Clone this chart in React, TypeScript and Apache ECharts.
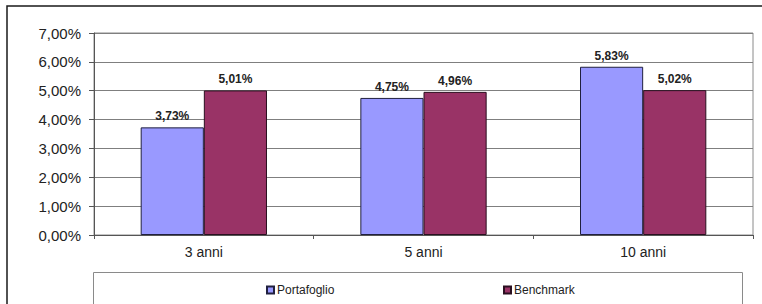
import React, { useEffect, useRef } from "react";
import * as echarts from "echarts";

const categories = ["3 anni", "5 anni", "10 anni"];
const portafoglio = [3.73, 4.75, 5.83];
const benchmark = [5.01, 4.96, 5.02];
const seriesNames = ["Portafoglio", "Benchmark"];
const yTicks = { min: 0, max: 7, interval: 1 };

const FONT = "'Liberation Sans', Arial, sans-serif";
const fmt = (v: number) => v.toFixed(2).replace(".", ",") + "%";

export default function App() {
  const ref = useRef<HTMLDivElement>(null);
  useEffect(() => {
    if (!ref.current) return;
    const chart = echarts.init(ref.current, undefined, { renderer: "svg" });
    const labelCfg = {
      show: true,
      position: "top" as const,
      distance: 5,
      fontFamily: FONT,
      fontSize: 12,
      fontWeight: "bold" as const,
      color: "#222",
      formatter: (p: any) => fmt(p.value),
    };
    chart.setOption({
      animation: false,
      backgroundColor: "#ffffff",
      textStyle: { fontFamily: FONT },
      grid: {
        left: 94,
        right: 9,
        top: 33,
        bottom: 69,
        show: true,
        borderColor: "#8a8a8a",
        borderWidth: 1,
        outerBoundsMode: "none",
        containLabel: false,
      },
      xAxis: {
        type: "category",
        data: categories,
        axisLine: { show: true, lineStyle: { color: "#555", width: 1 } },
        axisTick: { show: true, length: 4, lineStyle: { color: "#555" } },
        axisLabel: { fontFamily: FONT, fontSize: 14, color: "#222", margin: 10 },
        splitLine: { show: false },
      },
      yAxis: {
        type: "value",
        min: yTicks.min,
        max: yTicks.max,
        interval: yTicks.interval,
        axisLine: { show: true, lineStyle: { color: "#555", width: 1 } },
        axisTick: { show: true, length: 5, lineStyle: { color: "#555" } },
        axisLabel: {
          fontFamily: FONT,
          fontSize: 15,
          color: "#222",
          margin: 13,
          formatter: (v: number) => fmt(v),
        },
        splitLine: { show: true, lineStyle: { color: "#7f7f7f", width: 1 } },
      },
      legend: [
        {
          data: [seriesNames[0]],
          left: 266,
          top: 284,
          itemWidth: 7,
          itemHeight: 7,
          padding: 0,
          icon: "rect",
          textStyle: { fontFamily: FONT, fontSize: 12, color: "#222", padding: [0, 0, 0, -2] },
        },
        {
          data: [seriesNames[1]],
          left: 503,
          top: 284,
          itemWidth: 7,
          itemHeight: 7,
          padding: 0,
          icon: "rect",
          textStyle: { fontFamily: FONT, fontSize: 12, color: "#222", padding: [0, 0, 0, -2] },
        },
      ],
      graphic: [
        {
          type: "rect",
          shape: { x: 7, y: 6, width: 800, height: 400 },
          style: { fill: "none", stroke: "#1a1a1a", lineWidth: 1.5 },
          silent: true,
          z: -1,
        },
        {
          type: "rect",
          shape: { x: 93.5, y: 272.5, width: 649, height: 60 },
          style: { fill: "none", stroke: "#8a8a8a", lineWidth: 1 },
          silent: true,
          z: -1,
        },
      ],
      series: [
        {
          name: seriesNames[0],
          type: "bar",
          data: portafoglio,
          barGap: "0%",
          barCategoryGap: "42.5%",
          itemStyle: { color: "#9999ff", borderColor: "#20203f", borderWidth: 1 },
          label: labelCfg,
        },
        {
          name: seriesNames[1],
          type: "bar",
          data: benchmark,
          barGap: "0%",
          barCategoryGap: "42.5%",
          itemStyle: { color: "#993366", borderColor: "#2a1020", borderWidth: 1 },
          label: labelCfg,
        },
      ],
    });
    return () => chart.dispose();
  }, []);
  return (
    <div
      ref={ref}
      style={{ position: "fixed", left: 0, top: 0, width: 762, height: 304 }}
    />
  );
}
